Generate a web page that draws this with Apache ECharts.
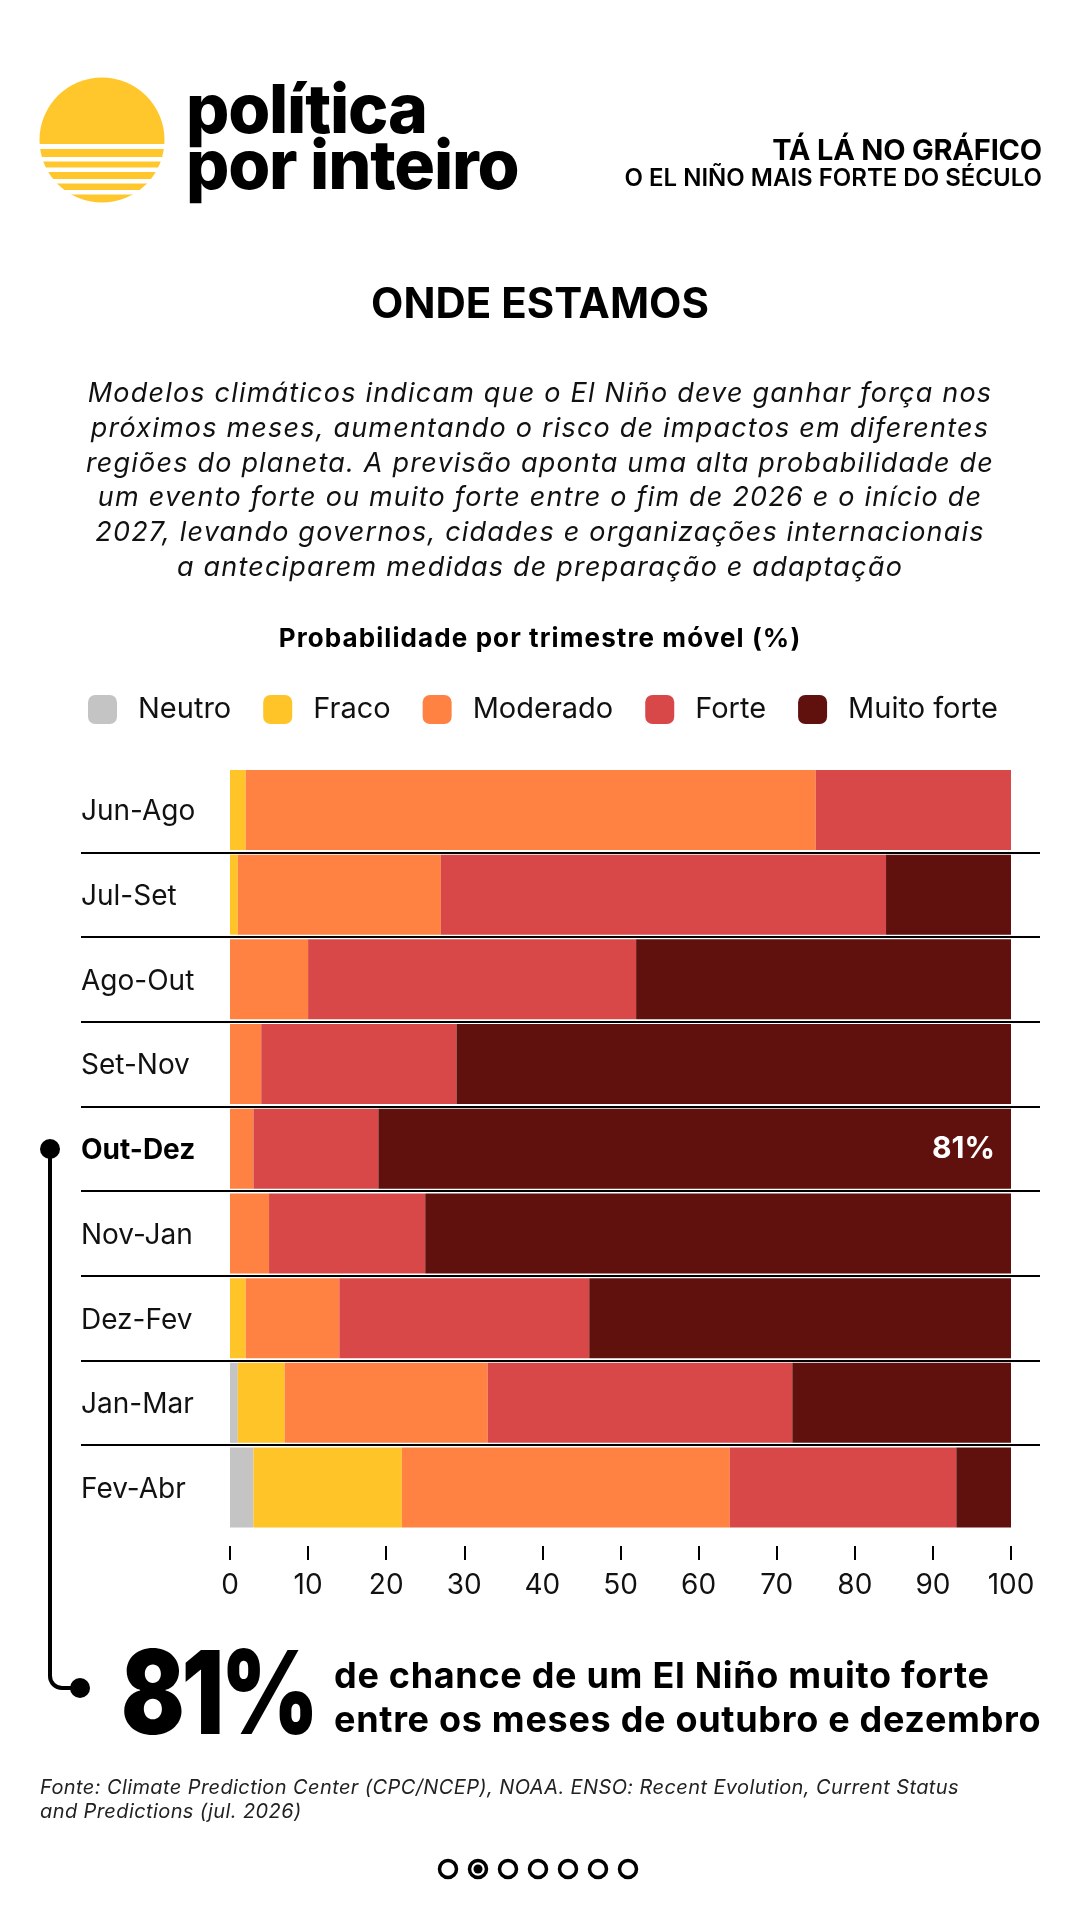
<!DOCTYPE html>
<html>
<head>
<meta charset="utf-8">
<script src="https://cdn.jsdelivr.net/npm/echarts@6/dist/echarts.min.js"></script>
<style>
  html, body { margin: 0; padding: 0; background: #fff; }
  #page { position: relative; width: 1080px; height: 1920px; background: #fff; overflow: hidden; font-family: Inter, "Noto Sans", sans-serif; color: #111; }
  #chart { position: absolute; left: 0; top: 0; width: 1080px; height: 1920px; }
  .t { position: absolute; white-space: nowrap; }
</style>
</head>
<body>
<div id="page">
  <div id="chart"></div>

  <!-- cabeçalho -->
  <div class="t" style="left:186px;top:80px;font-size:68px;line-height:56px;font-weight:800;letter-spacing:-1.2px;color:#000">política<br>por inteiro</div>
  <div class="t" style="right:38px;top:136px;font-size:29px;line-height:28px;font-weight:700;letter-spacing:-0.2px;color:#000">TÁ LÁ NO GRÁFICO</div>
  <div class="t" style="right:38px;top:167px;font-size:24px;line-height:22px;font-weight:600;letter-spacing:0px;color:#000">O EL NIÑO MAIS FORTE DO SÉCULO</div>

  <div class="t" style="left:0;width:1080px;text-align:center;top:283px;font-size:42px;line-height:40px;font-weight:700;color:#000">ONDE ESTAMOS</div>

  <div class="t" style="left:0;width:1080px;text-align:center;top:376px;font-size:27px;line-height:34.8px;font-style:italic;font-weight:400;letter-spacing:1.2px;color:#111">
    Modelos climáticos indicam que o El Niño deve ganhar força nos<br>
    próximos meses, aumentando o risco de impactos em diferentes<br>
    regiões do planeta. A previsão aponta uma alta probabilidade de<br>
    um evento forte ou muito forte entre o fim de 2026 e o início de<br>
    2027, levando governos, cidades e organizações internacionais<br>
    a anteciparem medidas de preparação e adaptação
  </div>

  <div class="t" style="left:0;width:1080px;text-align:center;top:626px;font-size:26px;line-height:24px;font-weight:700;letter-spacing:1.1px;color:#000">Probabilidade por trimestre móvel (%)</div>

  <!-- destaque -->
  <div class="t" style="left:121px;top:1634px;font-size:116px;line-height:116px;font-weight:900;letter-spacing:-4px;color:#000;transform:scaleX(0.81);transform-origin:left top">81%</div>
  <div class="t" style="left:334px;top:1653px;font-size:36px;line-height:44px;font-weight:700;letter-spacing:0.7px;color:#000">de chance de um El Niño muito forte<br>entre os meses de outubro e dezembro</div>

  <div class="t" style="left:40px;top:1775px;font-size:20px;line-height:24px;font-style:italic;letter-spacing:0.4px;color:#222">Fonte: Climate Prediction Center (CPC/NCEP), NOAA. ENSO: Recent Evolution, Current Status<br>and Predictions (jul. 2026)</div>
</div>

<script>
// trimestres móveis
var categories = ['Jun-Ago', 'Jul-Set', 'Ago-Out', 'Set-Nov', 'Out-Dez', 'Nov-Jan', 'Dez-Fev', 'Jan-Mar', 'Fev-Abr'];

// probabilidades (%) por categoria de intensidade
var neutro     = [0, 0, 0, 0, 0, 0, 0, 1, 3];
var fraco      = [2, 1, 0, 0, 0, 0, 2, 6, 19];
var moderado   = [73, 26, 10, 4, 3, 5, 12, 26, 42];
var forte      = [25, 57, 42, 25, 16, 20, 32, 39, 29];
var muitoForte = [0, 16, 48, 71, 81, 75, 54, 28, 7];

var seriesNames = ['Neutro', 'Fraco', 'Moderado', 'Forte', 'Muito forte'];
var xTicks = { min: 0, max: 100, interval: 10 };
var destaque = 'Out-Dez';

var cores = ['#c4c4c4', '#ffc428', '#ff8243', '#d94848', '#60110e'];

var gridTop = 767.6;
var gridHeight = 762.3;

var chart = echarts.init(document.getElementById('chart'), null, { renderer: 'canvas' });

var valores = [neutro, fraco, moderado, forte, muitoForte];
var idxDestaque = categories.indexOf(destaque);

var series = valores.map(function (arr, s) {
  return {
    name: seriesNames[s],
    type: 'bar',
    stack: 'total',
    barWidth: 80,
    xAxisIndex: 0,
    yAxisIndex: 0,
    itemStyle: { color: cores[s] },
    emphasis: { disabled: true },
    data: arr.map(function (v, i) {
      if (s === valores.length - 1 && i === idxDestaque) {
        return {
          value: v,
          label: {
            show: true,
            position: 'insideRight',
            distance: 16,
            formatter: '{c}%',
            color: '#fff',
            fontFamily: 'Inter',
            fontWeight: 700,
            fontSize: 30
          }
        };
      }
      return v;
    })
  };
});

// série vazia só para o grid das separações
series.push({ type: 'scatter', xAxisIndex: 1, yAxisIndex: 1, data: [], silent: true });

// logo
var logo = [
  { type: 'circle', shape: { cx: 102, cy: 140, r: 62.5 }, style: { fill: '#ffc72c' } }
];
[[144, 5], [157, 4.5], [167.5, 4.5], [179, 4.5], [190, 4.5]].forEach(function (s) {
  logo.push({ type: 'rect', shape: { x: 30, y: s[0], width: 150, height: s[1] }, style: { fill: '#fff' } });
});

// conector do destaque
var conector = [
  { type: 'line', shape: { x1: 50, y1: 1149, x2: 50, y2: 1676 }, style: { stroke: '#000', lineWidth: 4 } },
  { type: 'arc', shape: { cx: 62, cy: 1676, r: 12, startAngle: Math.PI / 2, endAngle: Math.PI, clockwise: true }, style: { stroke: '#000', lineWidth: 4, fill: null } },
  { type: 'line', shape: { x1: 62, y1: 1688, x2: 80, y2: 1688 }, style: { stroke: '#000', lineWidth: 4 } },
  { type: 'circle', shape: { cx: 50, cy: 1149, r: 10 }, style: { fill: '#000' } },
  { type: 'circle', shape: { cx: 80, cy: 1688, r: 10 }, style: { fill: '#000' } }
];

// paginação
var paginas = [];
for (var p = 0; p < 7; p++) {
  paginas.push({ type: 'circle', shape: { cx: 448 + p * 30, cy: 1869, r: 8.5 }, style: { fill: null, stroke: '#000', lineWidth: 3.5 } });
  if (p === 1) {
    paginas.push({ type: 'circle', shape: { cx: 448 + p * 30, cy: 1869, r: 4.5 }, style: { fill: '#000' } });
  }
}

chart.setOption({
  animation: false,
  backgroundColor: 'transparent',
  textStyle: { fontFamily: 'Inter' },
  legend: {
    data: seriesNames,
    left: 88,
    top: 695,
    padding: 0,
    itemWidth: 29,
    itemHeight: 29,
    itemGap: 32,
    icon: 'roundRect',
    selectedMode: false,
    textStyle: { fontSize: 29, color: '#111', fontFamily: 'Inter', padding: [0, 0, 0, 16] }
  },
  grid: [
    { left: 230, right: 69, top: gridTop, height: gridHeight },
    { left: 81, right: 40, top: gridTop, height: gridHeight }
  ],
  xAxis: [
    {
      type: 'value',
      gridIndex: 0,
      min: xTicks.min,
      max: xTicks.max,
      interval: xTicks.interval,
      offset: 16,
      axisLine: { show: false },
      axisTick: { show: true, length: 14, lineStyle: { color: '#000', width: 2 } },
      splitLine: { show: false },
      axisLabel: { margin: 26, fontSize: 28, color: '#111', fontFamily: 'Inter' }
    },
    { type: 'value', gridIndex: 1, show: false, min: 0, max: 1 }
  ],
  yAxis: [
    {
      type: 'category',
      gridIndex: 0,
      data: categories,
      inverse: true,
      axisLine: { show: false },
      axisTick: { show: false },
      axisLabel: {
        margin: 149,
        align: 'left',
        fontSize: 28,
        color: '#111',
        fontFamily: 'Inter',
        padding: [4, 0, 0, 0],
        formatter: function (v) { return v === destaque ? '{b|' + v + '}' : v; },
        rich: { b: { fontWeight: 700, fontSize: 28, color: '#000', fontFamily: 'Inter' } }
      }
    },
    {
      type: 'value',
      gridIndex: 1,
      min: 0,
      max: categories.length,
      interval: 1,
      inverse: true,
      axisLine: { show: false },
      axisTick: { show: false },
      axisLabel: { show: false },
      splitLine: { show: true, showMinLine: false, showMaxLine: false, lineStyle: { color: '#000', width: 2 } }
    }
  ],
  graphic: logo.concat(conector, paginas),
  series: series
});
</script>
</body>
</html>
